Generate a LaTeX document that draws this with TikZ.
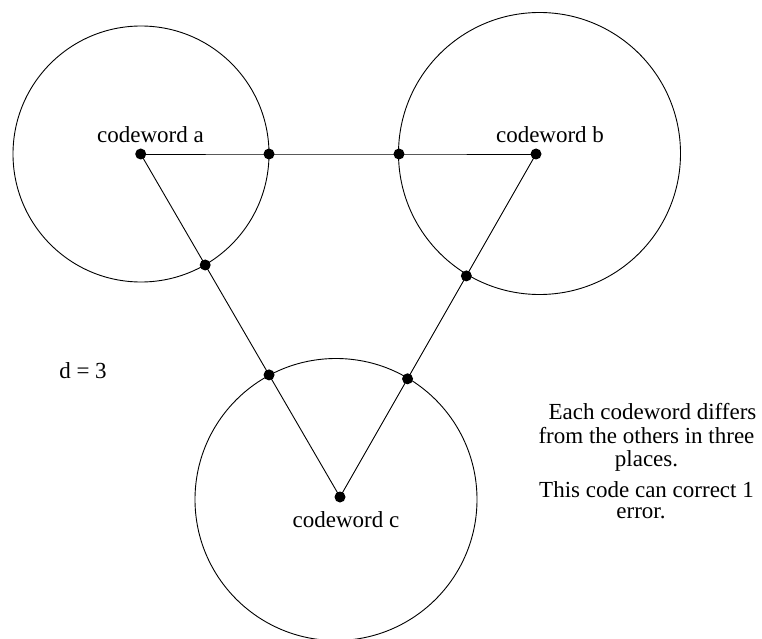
\documentclass[tikz,border=0pt]{standalone}
\usepackage{fontspec}
\setmainfont{Liberation Serif}
\usetikzlibrary{calc}
\begin{document}
\begin{tikzpicture}[x=1pt,y=-1pt,
  ring/.style={draw=black,line width=0.9pt},
  link/.style={draw=black,line width=0.9pt},
  dot/.style={circle,fill=black,inner sep=0pt,minimum size=11pt},
  lbl/.style={font=\fontsize{23}{23}\selectfont,inner sep=0pt,anchor=base},
  note/.style={inner sep=0pt,anchor=north,align=center}]
\useasboundingbox[fill=white] (0,0) rectangle (762,639);
% circles
\draw[ring] (141,154) circle[radius=128];
\draw[ring] (539.5,153.5) circle[radius=141];
\draw[ring] (336,499.5) circle[radius=141];
% codewords
\node[dot] (a) at (140.7,154) {};
\node[dot] (b) at (536,154) {};
\node[dot] (c) at (340,497) {};
% boundary points
\node[dot] (ab1) at ($(a)!0.3246!(b)$) {};
\node[dot] (ab2) at ($(a)!0.6534!(b)$) {};
\node[dot] (ac1) at ($(a)!0.3236!(c)$) {};
\node[dot] (ac2) at ($(a)!0.644!(c)$) {};
\node[dot] (bc1) at ($(b)!0.3554!(c)$) {};
\node[dot] (bc2) at ($(b)!0.6554!(c)$) {};
% connectors
\draw[link] (a.center) -- (ab1.center) -- (ab2.center) -- (b.center);
\draw[link] (a.center) -- (ac1.center) -- (ac2.center) -- (c.center);
\draw[link] (b.center) -- (bc1.center) -- (bc2.center) -- (c.center);
% labels
\node[lbl] (la) at (150.5,143) {codeword a};
\node[lbl] (lb) at (550,143) {codeword b};
\node[lbl] (lc) at (346,527) {codeword c};
\node[lbl] (ld) at (83,378) {d = 3};
\node[note,font=\fontsize{23}{23.5}\selectfont] (n1) at (646.5,403.3)
  {\hspace*{12pt}Each codeword differs\\from the others in three\\places.\hspace*{20pt}\\[7.5pt]
   This code can correct 1\hspace*{4pt}\\[-2.5pt]error.\hspace*{11pt}};
\end{tikzpicture}
\end{document}
